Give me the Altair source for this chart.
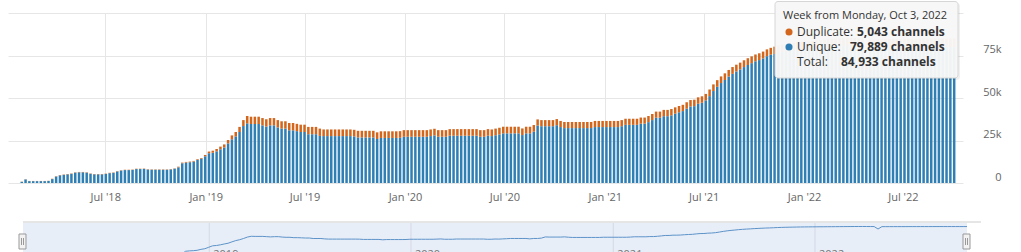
import altair as alt
import pandas as pd

# ---------------- data ----------------
first_week = "2018-01-29"          # Monday of the first weekly bar
# total channels per week, in thousands
totals_k = [
    0.8, 2.2, 1.2, 1.2, 1.2, 1.2, 1.2, 1.3, 2.5, 4.0,
    4.7, 5.0, 5.3, 5.6, 6.3, 6.5, 6.5, 6.3, 5.6, 5.3,
    5.3, 5.3, 5.5, 6.0, 6.2, 7.0, 7.5, 7.8, 7.8, 7.9,
    8.4, 8.4, 8.5, 8.1, 8.0, 8.0, 8.0, 8.0, 8.0, 8.2,
    8.6, 9.6, 12.0, 12.4, 12.6, 13.0, 14.0, 14.7, 16.5, 18.5,
    19.0, 20.0, 21.4, 22.7, 25.3, 28.0, 30.0, 33.0, 37.0, 39.4,
    39.0, 39.0, 39.0, 38.2, 37.5, 38.2, 38.2, 37.0, 36.3, 36.3,
    35.3, 35.3, 34.8, 34.3, 34.3, 33.0, 33.0, 33.0, 32.0, 31.5,
    31.5, 31.5, 31.5, 31.5, 31.5, 31.5, 31.5, 31.3, 30.7, 30.7,
    30.7, 30.7, 30.7, 29.8, 30.4, 30.4, 30.4, 30.4, 30.4, 30.5,
    31.1, 31.1, 31.1, 31.1, 31.1, 31.1, 31.1, 31.5, 31.9, 31.1,
    31.1, 31.1, 31.7, 31.7, 31.7, 31.7, 31.7, 31.7, 31.7, 31.7,
    31.1, 31.1, 31.7, 31.5, 32.0, 32.5, 33.1, 33.1, 33.1, 33.1,
    33.1, 32.1, 33.1, 33.1, 34.1, 37.4, 37.0, 37.0, 37.0, 37.0,
    37.6, 36.5, 35.9, 35.9, 35.9, 35.9, 35.9, 35.9, 35.9, 35.9,
    36.5, 36.5, 36.5, 36.5, 36.5, 36.5, 36.5, 37.0, 37.8, 37.8,
    37.8, 37.8, 38.5, 38.5, 39.4, 40.6, 42.0, 42.0, 43.0, 43.0,
    43.5, 44.5, 45.3, 46.0, 47.5, 48.8, 49.0, 50.4, 51.0, 52.4,
    55.0, 58.0, 60.5, 62.7, 64.5, 66.5, 68.2, 69.6, 70.8, 72.2,
    73.4, 74.5, 75.6, 76.3, 77.3, 78.6, 79.5, 80.2, 80.8, 81.3,
    81.8, 82.2, 82.5, 82.8, 83.0, 83.2, 83.4, 83.6, 83.8, 84.0,
    84.3, 84.5, 84.7, 84.9, 85.1, 85.3, 85.4, 85.4, 85.3, 85.1,
    84.9, 70.0, 84.4, 84.4, 84.5, 84.5, 84.6, 84.6, 84.6, 84.7,
    84.7, 84.7, 84.8, 84.8, 84.8, 84.8, 84.9, 84.9, 84.9, 84.9,
    84.9, 84.9, 84.9, 84.9, 84.933,
]
# duplicate channels per week, in thousands
duplicates_k = [
    0.1, 0.1, 0.1, 0.1, 0.1, 0.1, 0.1, 0.1, 0.2, 0.2,
    0.2, 0.2, 0.2, 0.2, 0.2, 0.2, 0.2, 0.2, 0.2, 0.2,
    0.2, 0.2, 0.2, 0.2, 0.2, 0.2, 0.2, 0.2, 0.2, 0.2,
    0.2, 0.2, 0.2, 0.2, 0.2, 0.2, 0.2, 0.2, 0.2, 0.2,
    0.2, 0.4, 0.4, 0.4, 0.4, 0.4, 0.4, 0.4, 0.8, 1.0,
    1.2, 1.4, 1.6, 1.8, 2.0, 2.3, 2.6, 3.0, 3.5, 4.3,
    4.3, 4.3, 4.3, 4.3, 4.3, 4.3, 4.3, 4.3, 4.3, 4.3,
    4.3, 4.3, 4.3, 4.3, 4.3, 4.3, 4.3, 4.3, 4.3, 3.9,
    3.9, 3.9, 3.9, 3.9, 3.9, 3.9, 3.9, 3.9, 3.9, 3.9,
    3.9, 3.9, 3.9, 3.9, 3.9, 3.9, 3.9, 3.9, 3.9, 3.9,
    3.9, 3.9, 3.9, 3.9, 3.9, 3.9, 3.9, 3.9, 3.9, 3.9,
    3.9, 3.9, 3.9, 3.9, 3.9, 3.9, 3.9, 3.9, 3.9, 3.9,
    3.9, 3.9, 3.9, 3.9, 3.9, 3.9, 3.9, 3.9, 3.9, 3.9,
    3.9, 3.9, 3.9, 3.9, 3.9, 3.6, 3.6, 3.6, 3.6, 3.6,
    3.6, 3.6, 3.6, 3.6, 3.6, 3.6, 3.6, 3.6, 3.6, 3.6,
    3.6, 3.6, 3.6, 3.6, 3.6, 3.6, 3.6, 3.6, 3.6, 3.6,
    3.6, 3.6, 3.6, 3.6, 3.6, 3.6, 3.6, 3.6, 3.7, 3.7,
    3.7, 3.7, 3.7, 3.7, 3.8, 3.8, 3.8, 3.8, 3.8, 3.8,
    3.9, 3.9, 3.9, 3.9, 3.9, 3.9, 4.0, 4.0, 4.0, 4.0,
    4.0, 4.0, 4.0, 4.0, 4.0, 4.0, 4.0, 4.3, 4.3, 4.3,
    4.3, 4.3, 4.3, 4.3, 4.3, 4.3, 4.3, 4.3, 4.3, 4.3,
    4.3, 4.6, 4.6, 4.6, 4.6, 4.6, 4.6, 4.6, 4.6, 4.6,
    4.6, 3.5, 4.6, 4.6, 4.6, 4.6, 4.6, 4.6, 4.6, 4.6,
    4.6, 4.9, 4.9, 4.9, 4.9, 4.9, 4.9, 4.9, 4.9, 4.9,
    4.9, 4.9, 4.9, 4.9, 5.043,
]
series_names = ["Unique", "Duplicate"]
series_colors = ["#2f7fb5", "#d2661c"]

x_tick_dates = [(2018, 7), (2019, 1), (2019, 7), (2020, 1), (2020, 7),
                (2021, 1), (2021, 7), (2022, 1), (2022, 7)]
y_ticks = [0, 25000, 50000, 75000, 100000]
nav_years = ["2019", "2020", "2021", "2022"]

tip_header = "Week from Monday, Oct 3, 2022"
tip_labels = ["Duplicate: ", "Unique: ", "Total: "]
tip_values = ["5,043 channels", "79,889 channels", "84,933 channels"]

FONT = "Open Sans"

# ---------------- tables ----------------
dates = pd.date_range(first_week, periods=len(totals_k), freq="7D")
rows = []
for d, t, dup in zip(dates, totals_k, duplicates_k):
    ds = d.strftime("%Y-%m-%d")
    rows.append({"date": ds, "series": "Unique", "value": round((t - dup) * 1000), "ord": 0})
    rows.append({"date": ds, "series": "Duplicate", "value": round(dup * 1000), "ord": 1})
bars_df = pd.DataFrame(rows)
nav_df = pd.DataFrame({"date": [d.strftime("%Y-%m-%d") for d in dates],
                       "total": [round(t * 1000) for t in totals_k]})
years_df = pd.DataFrame({"date": [f"{y}-01-01" for y in nav_years], "label": nav_years})
one = pd.DataFrame({"k": [0]})


def dt(y, m, d):
    return alt.DateTime(year=y, month=m, date=d, utc=True)


# ---------------- main stacked columns ----------------
main_x = alt.Scale(type="utc", domain=[dt(2018, 1, 13), dt(2022, 10, 10)])
bars = alt.Chart(bars_df).mark_bar(size=2.5).encode(
    x=alt.X("date:T", scale=main_x,
            axis=alt.Axis(values=[dt(y, m, 1) for y, m in x_tick_dates], format="%b '%y",
                          title=None, domain=False, ticks=False, tickSize=0, labelPadding=8,
                          labelFont=FONT, labelFontSize=11, labelColor="#666666",
                          grid=True, gridColor="#e6e6e6", gridWidth=1)),
    y=alt.Y("value:Q", stack="zero", scale=alt.Scale(domain=[0, 100000], nice=False),
            axis=alt.Axis(orient="right", values=y_ticks, title=None, domain=False,
                          ticks=False, tickSize=0, labelPadding=38, labelAlign="right",
                          labelBaseline="middle", labelOffset=-6,
                          labelExpr="datum.value == 0 ? '0' : (datum.value >= 100000 ? '' : (datum.value / 1000) + 'k')",
                          labelFont=FONT, labelFontSize=11, labelColor="#666666",
                          grid=True, gridColor="#e6e6e6", gridWidth=1)),
    color=alt.Color("series:N", scale=alt.Scale(domain=series_names, range=series_colors), legend=None),
    order=alt.Order("ord:Q", sort="ascending"),
)

# ---------------- navigator ----------------
nav_x = alt.Scale(type="utc", domain=[dt(2018, 1, 29), dt(2022, 10, 3)], range=[15, 959])
nav_bg = alt.Chart(one).mark_rect(color="#e8eef8").encode(
    x=alt.value(15), x2=alt.value(959), y=alt.value(210), y2=alt.value(245))
nav_top = alt.Chart(one).mark_rule(color="#cccccc", strokeWidth=1).encode(
    x=alt.value(15), x2=alt.value(973), y=alt.value(209))
nav_grid = alt.Chart(years_df).mark_rule(color="#d3d9e4", strokeWidth=1).encode(
    x=alt.X("date:T", scale=nav_x, axis=None), y=alt.value(210), y2=alt.value(245))
nav_text = alt.Chart(years_df).mark_text(align="left", baseline="top", dx=4, font=FONT,
                                         fontSize=11, color="#777777").encode(
    x=alt.X("date:T", scale=nav_x, axis=None), y=alt.value(236), text="label:N")
nav_line = alt.Chart(nav_df).mark_line(color="#5d93c9", strokeWidth=1).encode(
    x=alt.X("date:T", scale=nav_x, axis=None),
    y=alt.Y("total:Q", scale=alt.Scale(type="log", domain=[10000, 100000], range=[240.6, 211.5],
                                       nice=False),
            axis=None))


def handle(x0):
    box = alt.Chart(one).mark_rect(fill="#f2f2f2", stroke="#999999", strokeWidth=1).encode(
        x=alt.value(x0), x2=alt.value(x0 + 7), y=alt.value(221), y2=alt.value(236))
    l1 = alt.Chart(one).mark_rule(color="#999999", strokeWidth=1).encode(
        x=alt.value(x0 + 2.5), y=alt.value(225), y2=alt.value(232))
    l2 = alt.Chart(one).mark_rule(color="#999999", strokeWidth=1).encode(
        x=alt.value(x0 + 4.5), y=alt.value(225), y2=alt.value(232))
    return [box, l1, l2]


# ---------------- tooltip ----------------
tip_shadow = alt.Chart(one).mark_rect(fill="#000000", opacity=0.06, cornerRadius=3).encode(
    x=alt.value(769), x2=alt.value(952), y=alt.value(-10), y2=alt.value(67))
tip_box = alt.Chart(one).mark_rect(fill="#f7f7f7", fillOpacity=0.97, stroke="#d6d6d6",
                                   strokeWidth=1, cornerRadius=3).encode(
    x=alt.value(767), x2=alt.value(950), y=alt.value(-11.5), y2=alt.value(65))
tip_head = alt.Chart(pd.DataFrame({"t": [tip_header]})).mark_text(
    align="left", baseline="middle", font=FONT, fontSize=11, color="#333333").encode(
    x=alt.value(775), y=alt.value(3), text="t:N")
tip_layers = [tip_shadow, tip_box, tip_head]
line_y = [19, 34, 49]
value_x = [849, 842, 833]
for i in range(3):
    tip_layers.append(alt.Chart(pd.DataFrame({"t": [tip_labels[i]]})).mark_text(
        align="left", baseline="middle", font=FONT, fontSize=12, color="#333333").encode(
        x=alt.value(789), y=alt.value(line_y[i]), text="t:N"))
    tip_layers.append(alt.Chart(pd.DataFrame({"t": [tip_values[i]]})).mark_text(
        align="left", baseline="middle", font=FONT, fontSize=12, fontWeight="bold",
        color="#333333").encode(x=alt.value(value_x[i]), y=alt.value(line_y[i]), text="t:N"))
for i, col in enumerate([series_colors[1], series_colors[0]]):
    tip_layers.append(alt.Chart(one).mark_point(filled=True, size=50, color=col, opacity=1).encode(
        x=alt.value(781), y=alt.value(line_y[i])))

chart = alt.layer(
    bars, nav_bg, nav_top, nav_grid, nav_text, nav_line, *handle(11), *handle(955), *tip_layers
).resolve_scale(x="independent", y="independent").properties(
    width=955, height=170,
    autosize=alt.AutoSizeParams(type="none"),
    padding={"left": 8, "top": 13, "right": 58, "bottom": 69},
    background="#ffffff",
).configure_view(stroke=None)

chart.save("out.html", embed_options={"renderer": "svg", "actions": False})
